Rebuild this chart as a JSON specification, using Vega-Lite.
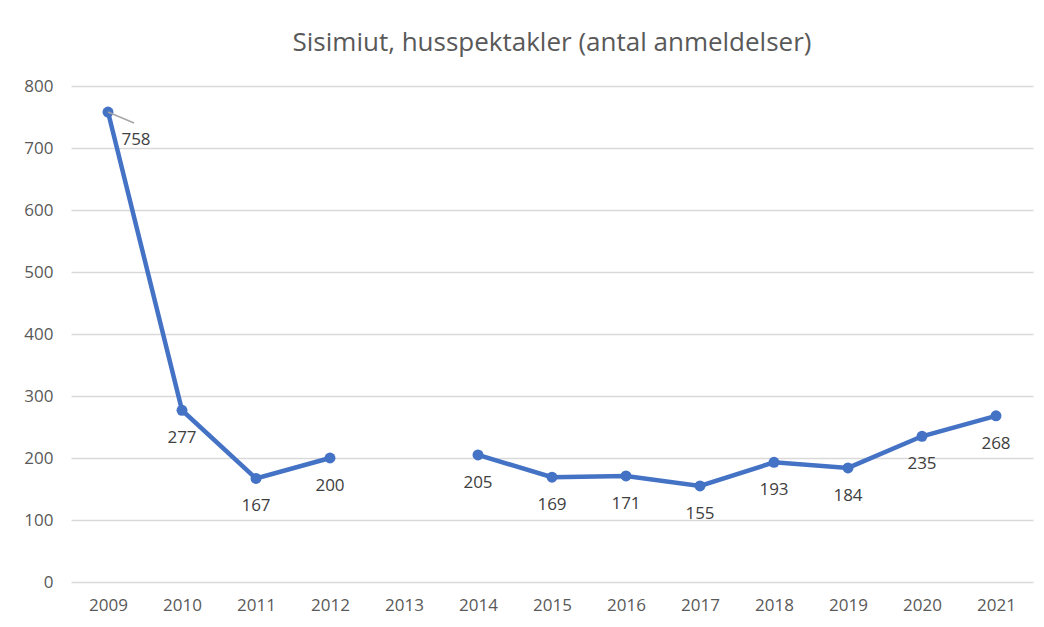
{
  "$schema": "https://vega.github.io/schema/vega-lite/v6.json",
  "width": 962,
  "height": 496,
  "padding": {"left": 23, "top": 30, "right": 12, "bottom": 10},
  "background": "white",
  "title": {
    "text": "Sisimiut, husspektakler (antal anmeldelser)",
    "font": "Open Sans",
    "fontSize": 26,
    "fontWeight": "normal",
    "color": "#595959",
    "offset": 21
  },
  "config": {"view": {"stroke": null}},
  "data": {
    "values": [
      {"year": "2009", "value": 758},
      {"year": "2010", "value": 277},
      {"year": "2011", "value": 167},
      {"year": "2012", "value": 200},
      {"year": "2013", "value": null},
      {"year": "2014", "value": 205},
      {"year": "2015", "value": 169},
      {"year": "2016", "value": 171},
      {"year": "2017", "value": 155},
      {"year": "2018", "value": 193},
      {"year": "2019", "value": 184},
      {"year": "2020", "value": 235},
      {"year": "2021", "value": 268}
    ]
  },
  "encoding": {
    "x": {
      "field": "year",
      "type": "ordinal",
      "scale": {"type": "point", "padding": 0.5},
      "axis": {
        "title": null,
        "labelAngle": 0,
        "domain": false,
        "ticks": false,
        "labelPadding": 15,
        "labelFont": "Open Sans",
        "labelFontSize": 17,
        "labelColor": "#595959"
      }
    },
    "y": {
      "field": "value",
      "type": "quantitative",
      "scale": {"domain": [0, 800], "nice": false},
      "axis": {
        "title": null,
        "values": [0, 100, 200, 300, 400, 500, 600, 700, 800],
        "domain": false,
        "ticks": false,
        "labelPadding": 18,
        "labelFont": "Open Sans",
        "labelFontSize": 17,
        "labelColor": "#595959",
        "gridColor": "#d9d9d9",
        "gridWidth": 1.5
      }
    }
  },
  "layer": [
    {
      "mark": {"type": "line", "color": "#4472C4", "strokeWidth": 4.5}
    },
    {
      "transform": [{"filter": "datum.value != null"}],
      "mark": {"type": "point", "filled": true, "color": "#4472C4", "size": 120, "opacity": 1}
    },
    {
      "transform": [{"filter": "datum.year == '2009'"}],
      "mark": {"type": "rule", "color": "#a6a6a6", "strokeWidth": 1.5, "x2Offset": 26, "y2Offset": 11},
      "encoding": {
        "x2": {"field": "year"},
        "y2": {"field": "value"}
      }
    },
    {
      "transform": [{"filter": "datum.value != null && datum.year != '2009'"}],
      "mark": {"type": "text", "dy": 28, "font": "Open Sans", "fontSize": 17, "color": "#404040", "baseline": "middle"},
      "encoding": {"text": {"field": "value", "type": "quantitative"}}
    },
    {
      "transform": [{"filter": "datum.year == '2009'"}],
      "mark": {"type": "text", "dx": 28, "dy": 28, "font": "Open Sans", "fontSize": 17, "color": "#404040", "baseline": "middle"},
      "encoding": {"text": {"field": "value", "type": "quantitative"}}
    }
  ]
}
